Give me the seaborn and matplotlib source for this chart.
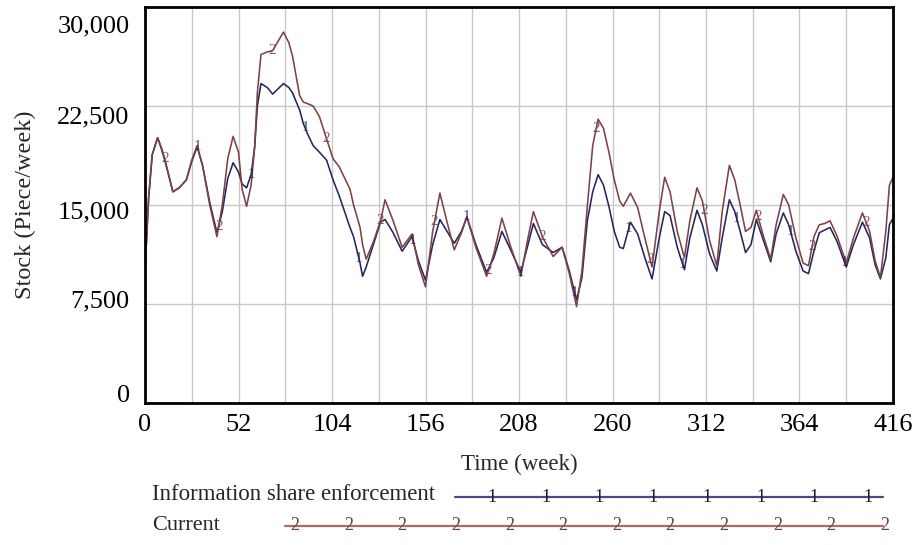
import numpy as np
import pandas as pd
import matplotlib
matplotlib.use("Agg")
import matplotlib.pyplot as plt
import matplotlib.transforms as mtrans
from matplotlib.lines import Line2D
import seaborn as sns

# ---------------- data ----------------
weeks = [0, 2, 4, 7, 9, 11, 15.5, 19, 23, 26, 29, 32, 36, 40, 43, 46, 49, 52, 54, 56.5,
         59, 61, 62.5, 64.5, 68, 71, 74, 77, 80, 82, 86, 88, 90, 93.5, 97, 101, 104.6, 108,
         114, 116, 119.6, 121, 123, 127, 131, 133.5, 138, 143, 148.5, 152, 156, 160, 164,
         168, 172, 176, 179, 184, 190, 194, 198.5, 203, 209, 213, 216, 221, 227, 232, 236,
         240, 243, 246, 249, 252, 255, 258, 261, 264, 266, 270, 274, 278, 282, 286, 289,
         292, 296, 300, 303, 307, 310, 314, 318, 321, 325, 328, 331, 334, 337, 340, 344,
         348, 351, 355, 358, 362, 366, 369, 372, 375, 378, 381, 385, 390, 394, 399, 403,
         406, 409, 412, 414, 416]

info_share = [10000, 15500, 18800, 20100, 19300, 18400, 16000, 16300, 16900, 18300, 19400,
              18000, 15200, 12900, 14500, 17000, 18200, 17500, 16600, 16300,
              17300, 19400, 22500, 24200, 23900, 23400, 23800, 24200, 23900, 23500, 22200,
              21200, 20500, 19500, 19000, 18400, 16900, 15700,
              13300, 12600, 10600, 9600, 10300, 12000, 13700, 13900, 12900, 11500, 12600,
              10800, 9300, 12000, 13900,
              13000, 12100, 13000, 14100, 12000, 9900, 11000, 13000, 11700, 9900, 12000,
              13600, 12000, 11400, 11800, 10000,
              7800, 9500, 13800, 16000, 17300, 16500, 14900, 13000, 11800, 11700, 13700,
              12800, 11000, 9400, 12500, 14500,
              14200, 11800, 10100, 12500, 14600, 13500, 11300, 10000, 12500, 15400, 14500,
              13000, 11400, 12000, 13900, 12300,
              10700, 12800, 14400, 13500, 11500, 10000, 9800, 11500, 12900, 13100, 13300,
              12200, 10300, 12000, 13700, 12500,
              10500, 9400, 11000, 13500, 14000]

current = [10000, 15500, 18800, 20100, 19400, 18500, 16000, 16300, 16900, 18400, 19500,
           18000, 15000, 12600, 15000, 18500, 20200, 19000, 16200, 14900,
           16500, 19400, 23500, 26400, 26600, 26700, 27400, 28100, 27300, 26300, 23300,
           22800, 22700, 22500, 21700, 20000, 18500, 17900,
           16200, 15000, 13300, 12000, 10900, 12200, 13800, 15400, 13800, 11800, 12800,
           10500, 8800, 13000, 15900,
           13700, 11600, 12900, 14100, 11800, 9600, 11300, 14000, 12000, 9600, 12500,
           14500, 12600, 11100, 11800, 9800,
           7300, 10000, 14900, 19500, 21500, 20800, 19000, 16900, 15300, 14900, 15900,
           14800, 12500, 10300, 14500, 17100,
           16000, 13000, 11000, 13800, 16300, 15300, 12300, 10400, 14500, 18000, 16900,
           15000, 13000, 13300, 14600, 12600,
           10900, 13500, 15800, 15000, 12500, 10600, 10400, 12600, 13500, 13600, 13800,
           12600, 10600, 12500, 14400, 13000,
           10800, 9500, 13000, 16500, 17100]

series_names = ["Information share enforcement", "Current"]
x_ticks = [0, 52, 104, 156, 208, 260, 312, 364, 416]
y_ticks = [0, 7500, 15000, 22500, 30000]
y_tick_labels = ["0", "7,500", "15,000", "22,500", "30,000"]

colors = {"Information share enforcement": "#26265e", "Current": "#7c4248"}
legend_colors = {"Information share enforcement": "#4a4a8a", "Current": "#b06868"}

# ---------------- figure ----------------
sns.set_theme(style="white")
plt.rcParams["font.family"] = ["Liberation Serif", "DejaVu Serif"]

W, H = 915, 545
fig = plt.figure(figsize=(W / 100, H / 100), dpi=100)
ax = fig.add_axes([145 / W, 1 - 403 / H, (893 - 145) / W, (403 - 7) / H])

df = pd.concat([
    pd.DataFrame({"week": weeks, "stock": info_share, "series": series_names[0]}),
    pd.DataFrame({"week": weeks, "stock": current, "series": series_names[1]}),
])
sns.lineplot(data=df, x="week", y="stock", hue="series", palette=colors,
             estimator=None, sort=False, linewidth=1.15, legend=False, ax=ax)

# numbered markers along the curves (Vensim style)
for name, vals, start in [(series_names[0], info_share, 29), (series_names[1], current, 11)]:
    for w in np.arange(start, 416, 30):
        ax.text(w, np.interp(w, weeks, vals), "1" if name == series_names[0] else "2",
                color=colors[name], fontsize=11, ha="center", va="center", alpha=0.85)

ax.set_xlim(0, 416)
ax.set_ylim(0, 30000)
ax.set_xticks(x_ticks)
ax.set_xticks(np.arange(0, 417, 26), minor=True)
ax.set_yticks(y_ticks)
ax.set_yticklabels(y_tick_labels)
ax.grid(which="both", color="#c8c8c8", linewidth=1.0)
ax.tick_params(which="both", length=0, labelsize=19, colors="black")
ax.tick_params(axis="x", pad=8)
ax.tick_params(axis="y", pad=11)
for sp in ax.spines.values():
    sp.set_visible(True)
    sp.set_color("black")
    sp.set_linewidth(2.0)

# Vensim-like label placement (labels spread slightly inside the range)
offsets_px = {0: 10, 7500: 5, 15000: -5, 22500: -9, 30000: -17}
for t, lab in zip(y_ticks, ax.get_yticklabels()):
    lab.set_transform(lab.get_transform() +
                      mtrans.ScaledTranslation(0, offsets_px[t] / 100, fig.dpi_scale_trans))

ax.set_xlabel("Time (week)", fontsize=16.5, labelpad=13)
ax.set_ylabel("Stock (Piece/week)", fontsize=17.5, labelpad=15)

# ---------------- custom legend below ----------------
def fx(px):
    return px / W

def fy(py):
    return 1 - py / H

fig.text(fx(152), fy(495), series_names[0], fontsize=16.5, ha="left", va="center")
fig.text(fx(152), fy(526), series_names[1], fontsize=16, ha="left", va="center")
fig.add_artist(Line2D([fx(455), fx(883)], [fy(497), fy(497)],
                      color=legend_colors[series_names[0]], linewidth=1.6))
fig.add_artist(Line2D([fx(285), fx(883)], [fy(526), fy(526)],
                      color=legend_colors[series_names[1]], linewidth=1.6))
for k in range(8):
    fig.text(fx(492 + 53.7 * k), fy(497), "1", fontsize=13, ha="center", va="center",
             color="#1a1a3a")
for k in range(12):
    fig.text(fx(295 + 53.6 * k), fy(526), "2", fontsize=13, ha="center", va="center",
             color="#6a3a3a")

fig.savefig("out.png", dpi=100)
